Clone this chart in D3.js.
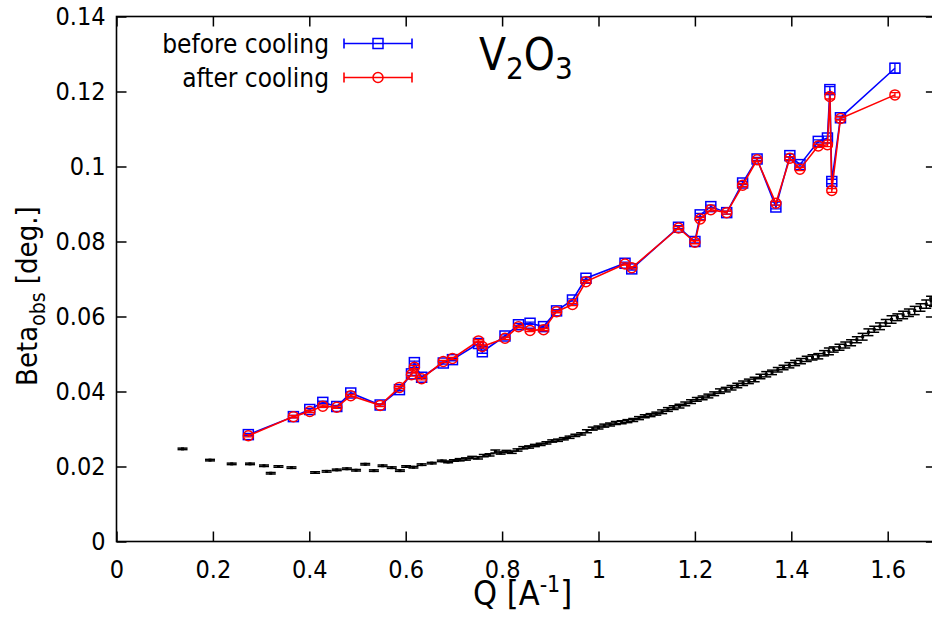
<!DOCTYPE html>
<html>
<head>
<meta charset="utf-8">
<script src="https://cdn.jsdelivr.net/npm/d3@7"></script>
<style>
body { margin: 0; background: #fff; }
text { font-family: "DejaVu Sans Condensed", "DejaVu Sans", sans-serif; fill: #000; }
</style>
</head>
<body>
<svg id="chart" width="932" height="621"></svg>
<script>
// values
var xTicks = [0, 0.2, 0.4, 0.6, 0.8, 1, 1.2, 1.4, 1.6];
var yTicks = [0, 0.02, 0.04, 0.06, 0.08, 0.1, 0.12, 0.14];

var sampleQ = [0.2735, 0.367, 0.401, 0.428, 0.457, 0.486, 0.547, 0.587, 0.612, 0.618,
               0.633, 0.678, 0.697, 0.751, 0.759, 0.806, 0.834, 0.858, 0.886, 0.913,
               0.946, 0.974, 1.055, 1.069, 1.166, 1.200, 1.211, 1.233, 1.266, 1.299,
               1.329, 1.368, 1.397, 1.418, 1.456, 1.475, 1.480, 1.484, 1.502, 1.615];
var beforeBeta = [0.0285, 0.0333, 0.0352, 0.0371, 0.0360, 0.0396, 0.0364, 0.0405, 0.0447, 0.0477,
                  0.0438, 0.0476, 0.0485, 0.0528, 0.0506, 0.0548, 0.0578, 0.0582, 0.0573, 0.0615,
                  0.0644, 0.0702, 0.0742, 0.0727, 0.0838, 0.0800, 0.0871, 0.0893, 0.0877, 0.0956,
                  0.1020, 0.0892, 0.1029, 0.1005, 0.1067, 0.1076, 0.1205, 0.0960, 0.1130, 0.1262];
var afterBeta = [0.0282, 0.0333, 0.0347, 0.0361, 0.0358, 0.0389, 0.0363, 0.0411, 0.0445, 0.0465,
                 0.0434, 0.0480, 0.0488, 0.0535, 0.0520, 0.0542, 0.0573, 0.0563, 0.0565, 0.0613,
                 0.0632, 0.0693, 0.0740, 0.0730, 0.0836, 0.0798, 0.0860, 0.0885, 0.0877, 0.0950,
                 0.1018, 0.0902, 0.1022, 0.0993, 0.1055, 0.1058, 0.1187, 0.0936, 0.1128, 0.1191];
var beforeErr = [0.0003, 0.0003, 0.0003, 0.0003, 0.0003, 0.0003, 0.0003, 0.0003, 0.0004, 0.0004,
                 0.0003, 0.0003, 0.0003, 0.0003, 0.0004, 0.0003, 0.0003, 0.0003, 0.0003, 0.0003,
                 0.0003, 0.0003, 0.0003, 0.0003, 0.0004, 0.0004, 0.0004, 0.0004, 0.0004, 0.0004,
                 0.0004, 0.0005, 0.0004, 0.0004, 0.0004, 0.0005, 0.0008, 0.0006, 0.0004, 0.0013];
var afterErr = [0.0003, 0.0003, 0.0003, 0.0003, 0.0003, 0.0003, 0.0003, 0.0003, 0.0004, 0.0004,
                0.0003, 0.0003, 0.0003, 0.0003, 0.0004, 0.0003, 0.0003, 0.0003, 0.0003, 0.0003,
                0.0003, 0.0003, 0.0003, 0.0003, 0.0004, 0.0004, 0.0004, 0.0004, 0.0004, 0.0004,
                0.0004, 0.0005, 0.0004, 0.0004, 0.0004, 0.0005, 0.0007, 0.0005, 0.0004, 0.0006];

// instrument reference (black)
var refQ = [0.137, 0.194, 0.239, 0.277, 0.306, 0.320, 0.336, 0.363, 0.412, 0.436,
            0.457, 0.478, 0.497, 0.516, 0.534, 0.552, 0.571, 0.588, 0.601, 0.616,
            0.633, 0.654, 0.675, 0.688, 0.700, 0.712, 0.725, 0.738, 0.750, 0.762,
            0.774, 0.786, 0.797, 0.809, 0.820, 0.832, 0.844, 0.856, 0.868, 0.880,
            0.892, 0.904, 0.916, 0.928, 0.940, 0.952, 0.964, 0.976, 0.988, 1.000,
            1.012, 1.024, 1.036, 1.048, 1.060, 1.072, 1.084, 1.096, 1.108, 1.120,
            1.132, 1.144, 1.156, 1.168, 1.180, 1.192, 1.204, 1.216, 1.228, 1.240,
            1.252, 1.264, 1.276, 1.288, 1.300, 1.312, 1.324, 1.336, 1.348, 1.360,
            1.372, 1.384, 1.396, 1.408, 1.420, 1.432, 1.444, 1.456, 1.468, 1.478,
            1.488, 1.500, 1.512, 1.524, 1.536, 1.548, 1.560, 1.572, 1.584, 1.596,
            1.608, 1.620, 1.632, 1.644, 1.656, 1.668, 1.680, 1.690, 1.696];
var refBeta = [0.0247, 0.0217, 0.0207, 0.0207, 0.0202, 0.0182, 0.0200, 0.0197, 0.0184, 0.0187,
               0.0191, 0.0194, 0.0190, 0.0206, 0.0189, 0.0202, 0.0197, 0.0189, 0.0200, 0.0198,
               0.0205, 0.0209, 0.0215, 0.0212, 0.0216, 0.0218, 0.0220, 0.0224, 0.0223, 0.0229,
               0.0231, 0.0240, 0.0236, 0.0240, 0.0238, 0.0244, 0.0250, 0.0252, 0.0256, 0.0259,
               0.0263, 0.0268, 0.0270, 0.0274, 0.0278, 0.0283, 0.0287, 0.0294, 0.0301, 0.0304,
               0.0309, 0.0312, 0.0316, 0.0318, 0.0321, 0.0324, 0.0329, 0.0334, 0.0337, 0.0341,
               0.0346, 0.0352, 0.0357, 0.0361, 0.0367, 0.0373, 0.0379, 0.0383, 0.0388, 0.0394,
               0.0401, 0.0405, 0.0410, 0.0416, 0.0422, 0.0427, 0.0432, 0.0440, 0.0446, 0.0451,
               0.0458, 0.0464, 0.0470, 0.0476, 0.0481, 0.0487, 0.0491, 0.0494, 0.0502, 0.0507,
               0.0512, 0.0518, 0.0524, 0.0530, 0.0538, 0.0546, 0.0558, 0.0566, 0.0574, 0.0583,
               0.0592, 0.0598, 0.0604, 0.0610, 0.0616, 0.0624, 0.0633, 0.0642, 0.0638];
var refErr = [0.0002, 0.0002, 0.0002, 0.0002, 0.0002, 0.0002, 0.0002, 0.0002, 0.0002, 0.0002,
              0.0002, 0.0002, 0.0002, 0.0002, 0.0002, 0.0002, 0.0002, 0.0002, 0.0002, 0.0002,
              0.0002, 0.0002, 0.0002, 0.0002, 0.0002, 0.0003, 0.0003, 0.0003, 0.0003, 0.0003,
              0.0003, 0.0004, 0.0003, 0.0003, 0.0003, 0.0003, 0.0003, 0.0003, 0.0003, 0.0003,
              0.0003, 0.0003, 0.0003, 0.0003, 0.0003, 0.0003, 0.0003, 0.0004, 0.0004, 0.0004,
              0.0004, 0.0004, 0.0004, 0.0004, 0.0004, 0.0004, 0.0004, 0.0004, 0.0004, 0.0004,
              0.0005, 0.0005, 0.0005, 0.0005, 0.0005, 0.0005, 0.0005, 0.0005, 0.0005, 0.0005,
              0.0006, 0.0006, 0.0006, 0.0006, 0.0006, 0.0006, 0.0006, 0.0006, 0.0007, 0.0006,
              0.0006, 0.0006, 0.0007, 0.0007, 0.0007, 0.0007, 0.0007, 0.0007, 0.0007, 0.0009,
              0.0007, 0.0008, 0.0008, 0.0008, 0.0008, 0.0009, 0.0009, 0.0008, 0.0009, 0.0009,
              0.0010, 0.0009, 0.0010, 0.0010, 0.0011, 0.0010, 0.0011, 0.0012, 0.0011];

var series = [
  {name: "before cooling", color: "#0000ff", values: beforeBeta, err: beforeErr, marker: "square"},
  {name: "after cooling", color: "#ff0000", values: afterBeta, err: afterErr, marker: "circle"}
];

var plotLeft = 116.5, plotTop = 16.5, plotBottom = 541.5;
var plotRight = plotLeft + 1.7 * 482;   // right border falls just outside the picture

var svg = d3.select("#chart");
var x = d3.scaleLinear().domain([0, 1.7]).range([plotLeft, plotRight]);
var y = d3.scaleLinear().domain([0, 0.14]).range([plotBottom, plotTop]);
var fmt = function(d){ return String(+d.toFixed(2)); };

// axes, ticks pointing inward, mirrored on top / right
svg.append("g").attr("transform", "translate(0," + plotBottom + ")")
  .call(d3.axisBottom(x).tickValues(xTicks).tickSize(-10).tickPadding(19).tickFormat(fmt));
svg.append("g").attr("transform", "translate(" + plotLeft + ",0)")
  .call(d3.axisLeft(y).tickValues(yTicks).tickSize(-10).tickPadding(11).tickFormat(fmt));
svg.append("g").attr("transform", "translate(0," + plotTop + ")")
  .call(d3.axisTop(x).tickValues(xTicks).tickSize(-10).tickFormat(""));
svg.append("g").attr("transform", "translate(" + plotRight + ",0)")
  .call(d3.axisRight(y).tickValues(yTicks).tickSize(-10).tickFormat(""));

svg.selectAll(".domain").remove();
svg.selectAll(".tick line").attr("stroke", "#000").attr("stroke-width", 1.5);
svg.selectAll(".tick text").style("font-size", "25px").attr("fill", "#000");
svg.selectAll("g").attr("font-family", null);

svg.append("rect").attr("x", plotLeft).attr("y", plotTop)
  .attr("width", plotRight - plotLeft).attr("height", plotBottom - plotTop)
  .attr("fill", "none").attr("stroke", "#000").attr("stroke-width", 1.6);

// reference curve: dots with vertical error bars
var refG = svg.append("g").attr("stroke", "#000").attr("stroke-width", 1.5);
refQ.forEach(function(q, i){
  var cx = x(q), y0 = y(refBeta[i] - refErr[i]), y1 = y(refBeta[i] + refErr[i]);
  refG.append("line").attr("x1", cx).attr("x2", cx).attr("y1", y0).attr("y2", y1);
  refG.append("line").attr("x1", cx - 5).attr("x2", cx + 5).attr("y1", y0).attr("y2", y0);
  refG.append("line").attr("x1", cx - 5).attr("x2", cx + 5).attr("y1", y1).attr("y2", y1);
  refG.append("rect").attr("x", cx - 1.5).attr("y", y(refBeta[i]) - 1.5)
    .attr("width", 3).attr("height", 3).attr("fill", "#000").attr("stroke", "none");
});

function drawMarker(g, kind, cx, cy, color){
  if (kind == "square") {
    g.append("rect").attr("x", cx - 5).attr("y", cy - 5).attr("width", 10).attr("height", 10)
      .attr("fill", "none").attr("stroke", color).attr("stroke-width", 1.5);
  } else {
    g.append("circle").attr("cx", cx).attr("cy", cy).attr("r", 5)
      .attr("fill", "none").attr("stroke", color).attr("stroke-width", 1.5);
  }
}

var line = d3.line().x(function(d){ return x(d[0]); }).y(function(d){ return y(d[1]); });

series.forEach(function(s){
  var g = svg.append("g");
  var pts = sampleQ.map(function(q, i){ return [q, s.values[i]]; });
  g.append("path").attr("d", line(pts)).attr("fill", "none")
    .attr("stroke", s.color).attr("stroke-width", 1.6);
  pts.forEach(function(p, i){
    var cx = x(p[0]), y0 = y(p[1] - s.err[i]), y1 = y(p[1] + s.err[i]);
    g.append("path").attr("d", "M" + cx + "," + y0 + "V" + y1 +
        "M" + (cx - 5) + "," + y0 + "h10M" + (cx - 5) + "," + y1 + "h10")
      .attr("stroke", s.color).attr("stroke-width", 1.3).attr("fill", "none");
    drawMarker(g, s.marker, cx, y(p[1]), s.color);
  });
});

// legend
series.forEach(function(s, i){
  var ly = 43.5 + i * 34;
  svg.append("text").attr("x", 329).attr("y", ly + 9).attr("text-anchor", "end")
    .style("font-size", "26px").text(s.name);
  svg.append("path").attr("d", "M344," + ly + "H412M344," + (ly - 5) + "V" + (ly + 5) +
      "M412," + (ly - 5) + "V" + (ly + 5))
    .attr("stroke", s.color).attr("stroke-width", 1.6).attr("fill", "none");
  drawMarker(svg, s.marker, 378, ly, s.color);
});

// title V2O3
var title = svg.append("text").attr("x", 479).attr("y", 70).style("font-size", "44px");
title.append("tspan").text("V");
title.append("tspan").attr("dy", 9).style("font-size", "31px").text("2");
title.append("tspan").attr("dy", -9).text("O");
title.append("tspan").attr("dy", 9).style("font-size", "31px").text("3");

// axis labels
var xl = svg.append("text").attr("x", 473).attr("y", 605).style("font-size", "34px");
xl.append("tspan").text("Q [A");
xl.append("tspan").attr("dy", -13).style("font-size", "23px").text("-1");
xl.append("tspan").attr("dy", 13).text("]");

var yl = svg.append("text").attr("transform", "translate(37,386) rotate(-90)")
  .style("font-size", "29px");
yl.append("tspan").text("Beta");
yl.append("tspan").attr("dy", 8).style("font-size", "21px").text("obs");
yl.append("tspan").attr("dy", -8).text(" [deg.]");
</script>
</body>
</html>
